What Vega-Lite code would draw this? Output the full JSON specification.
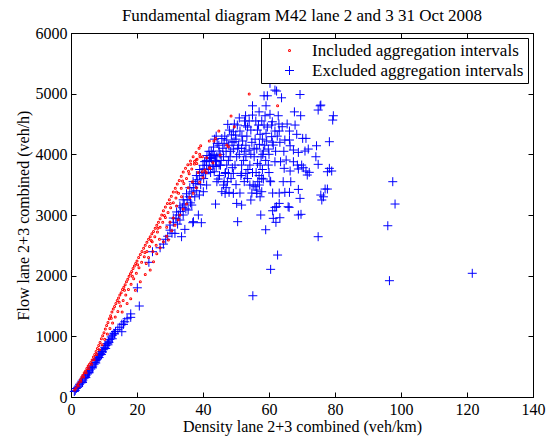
{
"$schema": "https://vega.github.io/schema/vega-lite/v6.json",
"width": 462, "height": 364,
"autosize": {"type": "none"},
"padding": {"left": 71, "top": 33, "right": 22, "bottom": 39},
"background": "white",
"title": {"text": "Fundamental diagram M42 lane 2 and 3 31 Oct 2008", "font": "Liberation Serif", "fontSize": 17, "fontWeight": "normal", "color": "black", "offset": 0},
"config": {
  "view": {"stroke": "black", "strokeWidth": 1},
  "axis": {"grid": false, "domainColor": "black", "tickColor": "black", "labelColor": "black", "titleColor": "black", "labelFont": "Liberation Serif", "titleFont": "Liberation Serif", "labelFontSize": 16, "titleFontSize": 16, "titleFontWeight": "normal", "tickSize": -5, "labelPadding": 9}
},
"data": {"values": [
{"x":1.0,"y":90,"g":"E"},{"x":1.3,"y":110,"g":"E"},{"x":1.6,"y":140,"g":"E"},{"x":2.0,"y":160,"g":"E"},{"x":2.3,"y":180,"g":"E"},{"x":2.6,"y":210,"g":"E"},{"x":3.0,"y":230,"g":"E"},{"x":3.3,"y":260,"g":"E"},{"x":3.5,"y":240,"g":"E"},{"x":3.6,"y":280,"g":"E"},{"x":4.0,"y":310,"g":"E"},{"x":4.3,"y":330,"g":"E"},{"x":4.5,"y":320,"g":"E"},{"x":4.6,"y":360,"g":"E"},{"x":5.0,"y":380,"g":"E"},{"x":5.3,"y":400,"g":"E"},{"x":5.5,"y":400,"g":"E"},{"x":5.6,"y":430,"g":"E"},{"x":6.0,"y":460,"g":"E"},{"x":6.3,"y":490,"g":"E"},{"x":6.5,"y":480,"g":"E"},{"x":6.6,"y":510,"g":"E"},{"x":7.0,"y":540,"g":"E"},{"x":7.3,"y":570,"g":"E"},{"x":7.5,"y":560,"g":"E"},{"x":7.6,"y":600,"g":"E"},{"x":7.8,"y":620,"g":"E"},{"x":8.0,"y":630,"g":"E"},{"x":8.3,"y":660,"g":"E"},{"x":8.5,"y":650,"g":"E"},{"x":8.7,"y":690,"g":"E"},{"x":9.0,"y":720,"g":"E"},{"x":9.2,"y":700,"g":"E"},{"x":9.4,"y":750,"g":"E"},{"x":9.5,"y":740,"g":"E"},{"x":9.8,"y":780,"g":"E"},{"x":10.2,"y":820,"g":"E"},{"x":10.5,"y":800,"g":"E"},{"x":10.6,"y":850,"g":"E"},{"x":11.0,"y":880,"g":"E"},{"x":11.2,"y":860,"g":"E"},{"x":11.4,"y":920,"g":"E"},{"x":11.5,"y":900,"g":"E"},{"x":11.8,"y":950,"g":"E"},{"x":12.2,"y":990,"g":"E"},{"x":12.5,"y":960,"g":"E"},{"x":12.6,"y":1020,"g":"E"},{"x":13.0,"y":1050,"g":"E"},{"x":13.2,"y":1040,"g":"E"},{"x":13.5,"y":1080,"g":"E"},{"x":14.2,"y":1110,"g":"E"},{"x":14.8,"y":1150,"g":"E"},{"x":15.4,"y":1076,"g":"E"},{"x":15.4,"y":1200,"g":"E"},{"x":15.9,"y":1197,"g":"E"},{"x":16.3,"y":1240,"g":"E"},{"x":17.0,"y":1290,"g":"E"},{"x":18.1,"y":1313,"g":"E"},{"x":18.1,"y":1370,"g":"E"},{"x":20.1,"y":1800,"g":"E"},{"x":20.7,"y":1500,"g":"E"},{"x":23.6,"y":2220,"g":"E"},{"x":24.7,"y":2395,"g":"E"},{"x":27.0,"y":2460,"g":"E"},
{"x":28.0,"y":2520,"g":"E"},{"x":28.7,"y":2600,"g":"E"},{"x":29.3,"y":2650,"g":"E"},{"x":30.0,"y":2750,"g":"E"},{"x":30.0,"y":2834,"g":"E"},{"x":30.6,"y":2700,"g":"E"},{"x":31.0,"y":2880,"g":"E"},{"x":31.5,"y":2697,"g":"E"},{"x":31.8,"y":2940,"g":"E"},{"x":32.3,"y":2850,"g":"E"},{"x":32.6,"y":3000,"g":"E"},{"x":33.0,"y":2917,"g":"E"},{"x":33.2,"y":3060,"g":"E"},{"x":33.5,"y":2642,"g":"E"},{"x":33.8,"y":3120,"g":"E"},{"x":34.0,"y":3000,"g":"E"},{"x":34.3,"y":3180,"g":"E"},{"x":34.5,"y":2763,"g":"E"},{"x":34.8,"y":3100,"g":"E"},{"x":35.2,"y":3250,"g":"E"},{"x":35.5,"y":3082,"g":"E"},{"x":35.8,"y":3300,"g":"E"},{"x":36.2,"y":3200,"g":"E"},{"x":36.6,"y":3164,"g":"E"},{"x":36.6,"y":3380,"g":"E"},{"x":36.9,"y":2873,"g":"E"},{"x":37.1,"y":2890,"g":"E"},{"x":37.2,"y":3450,"g":"E"},{"x":37.5,"y":3300,"g":"E"},{"x":37.8,"y":3520,"g":"E"},{"x":38.1,"y":3400,"g":"E"},{"x":38.4,"y":3580,"g":"E"},{"x":38.6,"y":3000,"g":"E"},{"x":38.9,"y":3329,"g":"E"},{"x":39.0,"y":3650,"g":"E"},{"x":39.3,"y":3500,"g":"E"},{"x":39.5,"y":2873,"g":"E"},{"x":39.7,"y":3700,"g":"E"},{"x":40.1,"y":3384,"g":"E"},{"x":40.2,"y":3600,"g":"E"},{"x":40.4,"y":3760,"g":"E"},{"x":40.8,"y":3680,"g":"E"},{"x":41.1,"y":3494,"g":"E"},{"x":41.1,"y":3820,"g":"E"},{"x":41.6,"y":3750,"g":"E"},{"x":41.9,"y":3880,"g":"E"},{"x":42.3,"y":3700,"g":"E"},{"x":42.6,"y":3930,"g":"E"},{"x":43.0,"y":3800,"g":"E"},{"x":43.4,"y":3980,"g":"E"},{"x":44.0,"y":3880,"g":"E"},{"x":36.0,"y":3450,"g":"E"},{"x":37.0,"y":3550,"g":"E"},{"x":38.0,"y":3650,"g":"E"},{"x":39.0,"y":3750,"g":"E"},{"x":40.0,"y":3820,"g":"E"},{"x":41.0,"y":3900,"g":"E"},{"x":42.0,"y":3980,"g":"E"},{"x":35.0,"y":3350,"g":"E"},{"x":34.0,"y":3250,"g":"E"},{"x":33.0,"y":3150,"g":"E"},{"x":32.0,"y":3050,"g":"E"},{"x":31.0,"y":2950,"g":"E"},
{"x":42.5,"y":4050,"g":"E"},{"x":43.2,"y":4120,"g":"E"},{"x":43.8,"y":3900,"g":"E"},{"x":44.3,"y":4180,"g":"E"},{"x":44.9,"y":4054,"g":"E"},{"x":45.3,"y":3820,"g":"E"},{"x":45.7,"y":4260,"g":"E"},{"x":46.2,"y":3960,"g":"E"},{"x":46.4,"y":4181,"g":"E"},{"x":46.8,"y":3700,"g":"E"},{"x":47.2,"y":4236,"g":"E"},{"x":47.5,"y":4494,"g":"E"},{"x":47.7,"y":3900,"g":"E"},{"x":48.2,"y":3960,"g":"E"},{"x":48.6,"y":4320,"g":"E"},{"x":48.9,"y":3780,"g":"E"},{"x":49.2,"y":4087,"g":"E"},{"x":49.4,"y":4208,"g":"E"},{"x":49.7,"y":3823,"g":"E"},{"x":49.9,"y":4318,"g":"E"},{"x":50.2,"y":3960,"g":"E"},{"x":50.4,"y":4483,"g":"E"},{"x":50.8,"y":4150,"g":"E"},{"x":51.2,"y":4384,"g":"E"},{"x":51.5,"y":3650,"g":"E"},{"x":51.7,"y":4098,"g":"E"},{"x":52.0,"y":4220,"g":"E"},{"x":52.3,"y":3900,"g":"E"},{"x":52.6,"y":4550,"g":"E"},{"x":52.9,"y":4636,"g":"E"},{"x":52.9,"y":4471,"g":"E"},{"x":53.0,"y":3960,"g":"E"},{"x":53.3,"y":4300,"g":"E"},{"x":53.6,"y":3750,"g":"E"},{"x":54.0,"y":4071,"g":"E"},{"x":54.2,"y":3823,"g":"E"},{"x":54.5,"y":4400,"g":"E"},{"x":54.8,"y":4198,"g":"E"},{"x":55.0,"y":4647,"g":"E"},{"x":55.0,"y":4800,"g":"E"},{"x":55.2,"y":3494,"g":"E"},{"x":55.5,"y":3960,"g":"E"},{"x":55.8,"y":4250,"g":"E"},{"x":56.1,"y":3700,"g":"E"},{"x":56.3,"y":4087,"g":"E"},{"x":56.5,"y":4400,"g":"E"},{"x":56.8,"y":4483,"g":"E"},{"x":57.1,"y":4164,"g":"E"},{"x":57.3,"y":3823,"g":"E"},{"x":57.3,"y":4330,"g":"E"},{"x":57.6,"y":3960,"g":"E"},{"x":57.8,"y":4550,"g":"E"},{"x":58.1,"y":4000,"g":"E"},{"x":58.3,"y":4054,"g":"E"},{"x":58.5,"y":4483,"g":"E"},{"x":58.5,"y":4965,"g":"E"},{"x":58.8,"y":4636,"g":"E"},{"x":59.1,"y":4346,"g":"E"},{"x":59.1,"y":4800,"g":"E"},{"x":59.3,"y":4220,"g":"E"},{"x":59.5,"y":4965,"g":"E"},{"x":59.8,"y":4087,"g":"E"},{"x":59.8,"y":3823,"g":"E"},{"x":60.3,"y":4659,"g":"E"},{"x":60.3,"y":5170,"g":"E"},{"x":60.8,"y":4291,"g":"E"},{"x":60.8,"y":4483,"g":"E"},{"x":61.0,"y":4537,"g":"E"},{"x":61.3,"y":4153,"g":"E"},{"x":61.8,"y":4384,"g":"E"},{"x":61.8,"y":5059,"g":"E"},{"x":61.8,"y":3878,"g":"E"},{"x":62.3,"y":5043,"g":"E"},{"x":62.8,"y":4636,"g":"E"},{"x":63.1,"y":4384,"g":"E"},{"x":63.3,"y":4198,"g":"E"},{"x":63.5,"y":3878,"g":"E"},{"x":63.8,"y":4932,"g":"E"},{"x":64.0,"y":4455,"g":"E"},{"x":64.6,"y":3769,"g":"E"},{"x":64.8,"y":4236,"g":"E"},{"x":65.2,"y":3906,"g":"E"},{"x":66.2,"y":4236,"g":"E"},{"x":66.2,"y":4384,"g":"E"},{"x":66.4,"y":4141,"g":"E"},{"x":66.4,"y":3725,"g":"E"},{"x":67.4,"y":4071,"g":"E"},{"x":67.4,"y":3878,"g":"E"},{"x":67.7,"y":4700,"g":"E"},{"x":67.9,"y":4483,"g":"E"},{"x":68.4,"y":4330,"g":"E"},{"x":68.6,"y":3823,"g":"E"},{"x":68.9,"y":4032,"g":"E"},{"x":68.9,"y":3758,"g":"E"},{"x":69.4,"y":4986,"g":"E"},{"x":69.6,"y":4636,"g":"E"},{"x":69.9,"y":3823,"g":"E"},{"x":70.2,"y":4263,"g":"E"},{"x":70.4,"y":3779,"g":"E"},{"x":70.9,"y":4054,"g":"E"},{"x":71.2,"y":4263,"g":"E"},{"x":71.2,"y":3725,"g":"E"},{"x":71.6,"y":3659,"g":"E"},{"x":71.9,"y":4087,"g":"E"},{"x":72.2,"y":3703,"g":"E"},{"x":74.2,"y":3960,"g":"E"},{"x":74.4,"y":4141,"g":"E"},{"x":74.9,"y":3835,"g":"E"},{"x":74.9,"y":4730,"g":"E"},{"x":75.5,"y":4800,"g":"E"},{"x":75.7,"y":4812,"g":"E"},{"x":77.7,"y":3713,"g":"E"},{"x":78.3,"y":3769,"g":"E"},{"x":78.3,"y":4208,"g":"E"},{"x":79.0,"y":3725,"g":"E"},{"x":79.3,"y":4565,"g":"E"},{"x":79.5,"y":4636,"g":"E"},
{"x":49.2,"y":4372,"g":"E"},{"x":44.2,"y":3960,"g":"E"},{"x":43.1,"y":3823,"g":"E"},{"x":44.9,"y":3823,"g":"E"},{"x":47.2,"y":3823,"g":"E"},{"x":51.7,"y":3823,"g":"E"},
{"x":43.4,"y":3713,"g":"E"},{"x":43.8,"y":3180,"g":"E"},{"x":44.2,"y":3549,"g":"E"},{"x":44.6,"y":3593,"g":"E"},{"x":45.7,"y":3384,"g":"E"},{"x":46.2,"y":3494,"g":"E"},{"x":46.4,"y":3549,"g":"E"},{"x":46.7,"y":3356,"g":"E"},{"x":46.7,"y":3686,"g":"E"},{"x":47.4,"y":3549,"g":"E"},{"x":47.7,"y":3686,"g":"E"},{"x":47.9,"y":3373,"g":"E"},{"x":49.2,"y":3356,"g":"E"},{"x":49.2,"y":3686,"g":"E"},{"x":50.2,"y":3191,"g":"E"},{"x":50.5,"y":2890,"g":"E"},{"x":51.2,"y":3362,"g":"E"},{"x":51.7,"y":3164,"g":"E"},{"x":51.7,"y":3686,"g":"E"},{"x":53.0,"y":3686,"g":"E"},{"x":54.2,"y":3494,"g":"E"},{"x":54.5,"y":3247,"g":"E"},{"x":54.8,"y":3362,"g":"E"},{"x":55.8,"y":3466,"g":"E"},{"x":56.3,"y":3356,"g":"E"},{"x":56.3,"y":3411,"g":"E"},{"x":56.6,"y":3549,"g":"E"},{"x":57.1,"y":3494,"g":"E"},{"x":57.3,"y":3300,"g":"E"},{"x":57.5,"y":3000,"g":"E"},{"x":57.8,"y":3384,"g":"E"},{"x":57.8,"y":3604,"g":"E"},{"x":58.3,"y":3593,"g":"E"},{"x":59.0,"y":2757,"g":"E"},{"x":60.3,"y":3560,"g":"E"},{"x":60.5,"y":3549,"g":"E"},{"x":61.1,"y":3070,"g":"E"},{"x":61.1,"y":3362,"g":"E"},{"x":61.3,"y":2945,"g":"E"},{"x":61.8,"y":3126,"g":"E"},{"x":62.1,"y":2879,"g":"E"},{"x":62.3,"y":3136,"g":"E"},{"x":63.1,"y":3191,"g":"E"},{"x":63.1,"y":3362,"g":"E"},{"x":63.3,"y":2955,"g":"E"},{"x":64.3,"y":3549,"g":"E"},{"x":64.8,"y":3373,"g":"E"},{"x":65.8,"y":3136,"g":"E"},{"x":66.1,"y":3126,"g":"E"},{"x":66.2,"y":3373,"g":"E"},{"x":66.6,"y":3549,"g":"E"},{"x":68.9,"y":3000,"g":"E"},{"x":68.9,"y":3422,"g":"E"},{"x":69.4,"y":3274,"g":"E"},{"x":69.7,"y":3011,"g":"E"},{"x":75.7,"y":3329,"g":"E"},{"x":76.0,"y":3247,"g":"E"},{"x":76.5,"y":3300,"g":"E"},{"x":77.0,"y":3428,"g":"E"},{"x":77.7,"y":3428,"g":"E"},
{"x":40.5,"y":3880,"g":"E"},{"x":41.2,"y":3980,"g":"E"},{"x":41.8,"y":4050,"g":"E"},{"x":42.3,"y":3950,"g":"E"},{"x":43.0,"y":4000,"g":"E"},{"x":43.5,"y":4250,"g":"E"},{"x":44.0,"y":4300,"g":"E"},{"x":44.8,"y":4150,"g":"E"},{"x":45.2,"y":4000,"g":"E"},{"x":45.5,"y":3900,"g":"E"},{"x":46.0,"y":4100,"g":"E"},{"x":46.6,"y":4300,"g":"E"},{"x":47.0,"y":4050,"g":"E"},{"x":47.8,"y":4150,"g":"E"},{"x":48.0,"y":4400,"g":"E"},{"x":48.4,"y":4050,"g":"E"},{"x":48.8,"y":4200,"g":"E"},{"x":49.5,"y":4500,"g":"E"},{"x":50.0,"y":4250,"g":"E"},{"x":50.5,"y":4100,"g":"E"},{"x":51.0,"y":4000,"g":"E"},{"x":51.0,"y":4600,"g":"E"},{"x":51.8,"y":4300,"g":"E"},{"x":52.5,"y":4050,"g":"E"},{"x":53.0,"y":4150,"g":"E"},{"x":53.5,"y":4450,"g":"E"},{"x":54.0,"y":4550,"g":"E"},{"x":54.5,"y":4000,"g":"E"},{"x":55.5,"y":4100,"g":"E"},{"x":56.0,"y":4550,"g":"E"},{"x":56.5,"y":3850,"g":"E"},{"x":57.0,"y":4700,"g":"E"},{"x":58.0,"y":4250,"g":"E"},{"x":58.7,"y":4150,"g":"E"},{"x":59.5,"y":4450,"g":"E"},{"x":60.0,"y":4000,"g":"E"},{"x":61.0,"y":4200,"g":"E"},{"x":62.0,"y":4050,"g":"E"},{"x":62.5,"y":4300,"g":"E"},{"x":63.0,"y":4500,"g":"E"},{"x":64.5,"y":4050,"g":"E"},{"x":65.5,"y":4500,"g":"E"},{"x":60.0,"y":3700,"g":"E"},{"x":59.0,"y":3900,"g":"E"},{"x":58.0,"y":3750,"g":"E"},{"x":57.0,"y":3650,"g":"E"},{"x":55.0,"y":3700,"g":"E"},{"x":53.5,"y":3600,"g":"E"},{"x":52.5,"y":3550,"g":"E"},{"x":50.0,"y":3500,"g":"E"},{"x":48.5,"y":3600,"g":"E"},{"x":47.0,"y":3450,"g":"E"},{"x":45.0,"y":3650,"g":"E"},{"x":44.0,"y":3800,"g":"E"},
{"x":55.1,"y":1669,"g":"E"},{"x":60.5,"y":2104,"g":"E"},{"x":62.6,"y":2340,"g":"E"},{"x":74.9,"y":2642,"g":"E"},{"x":96.0,"y":2823,"g":"E"},{"x":96.5,"y":1917,"g":"E"},{"x":98.2,"y":3181,"g":"E"},{"x":97.5,"y":3549,"g":"E"},{"x":121.6,"y":2039,"g":"E"},
{"x":1.1,"y":115,"g":"I"},{"x":1.5,"y":150,"g":"I"},{"x":2.0,"y":200,"g":"I"},{"x":2.4,"y":240,"g":"I"},{"x":2.9,"y":290,"g":"I"},{"x":3.3,"y":330,"g":"I"},{"x":3.6,"y":360,"g":"I"},{"x":4.0,"y":400,"g":"I"},{"x":4.4,"y":430,"g":"I"},{"x":4.8,"y":470,"g":"I"},{"x":5.2,"y":510,"g":"I"},{"x":5.6,"y":540,"g":"I"},{"x":6.0,"y":570,"g":"I"},{"x":6.4,"y":610,"g":"I"},{"x":6.8,"y":660,"g":"I"},{"x":7.2,"y":700,"g":"I"},{"x":7.6,"y":750,"g":"I"},{"x":8.0,"y":800,"g":"I"},{"x":8.4,"y":850,"g":"I"},{"x":8.8,"y":900,"g":"I"},{"x":9.2,"y":960,"g":"I"},{"x":9.6,"y":1010,"g":"I"},{"x":10.0,"y":1060,"g":"I"},{"x":10.4,"y":1120,"g":"I"},{"x":10.8,"y":1180,"g":"I"},{"x":11.2,"y":1230,"g":"I"},{"x":11.6,"y":1290,"g":"I"},{"x":12.0,"y":1340,"g":"I"},{"x":12.4,"y":1400,"g":"I"},{"x":12.8,"y":1450,"g":"I"},{"x":13.2,"y":1490,"g":"I"},{"x":13.6,"y":1540,"g":"I"},{"x":14.0,"y":1590,"g":"I"},{"x":14.4,"y":1630,"g":"I"},{"x":14.8,"y":1680,"g":"I"},{"x":15.2,"y":1720,"g":"I"},{"x":15.6,"y":1770,"g":"I"},{"x":16.0,"y":1810,"g":"I"},{"x":16.4,"y":1850,"g":"I"},{"x":16.8,"y":1900,"g":"I"},{"x":17.2,"y":1940,"g":"I"},{"x":17.6,"y":1990,"g":"I"},{"x":18.0,"y":2030,"g":"I"},{"x":18.4,"y":2070,"g":"I"},{"x":18.8,"y":2120,"g":"I"},{"x":19.2,"y":2160,"g":"I"},{"x":19.6,"y":2200,"g":"I"},{"x":20.0,"y":2240,"g":"I"},{"x":20.5,"y":2300,"g":"I"},{"x":21.0,"y":2350,"g":"I"},{"x":21.5,"y":2400,"g":"I"},{"x":22.0,"y":2450,"g":"I"},{"x":22.5,"y":2500,"g":"I"},{"x":23.0,"y":2550,"g":"I"},{"x":23.5,"y":2600,"g":"I"},{"x":24.0,"y":2640,"g":"I"},{"x":24.5,"y":2690,"g":"I"},{"x":25.0,"y":2730,"g":"I"},{"x":25.5,"y":2780,"g":"I"},{"x":26.0,"y":2830,"g":"I"},{"x":26.5,"y":2880,"g":"I"},{"x":27.0,"y":2940,"g":"I"},{"x":27.5,"y":3000,"g":"I"},{"x":28.0,"y":3070,"g":"I"},{"x":28.6,"y":3130,"g":"I"},{"x":29.2,"y":3190,"g":"I"},{"x":29.8,"y":3250,"g":"I"},{"x":30.4,"y":3310,"g":"I"},{"x":31.0,"y":3380,"g":"I"},{"x":31.6,"y":3440,"g":"I"},{"x":32.2,"y":3510,"g":"I"},{"x":32.8,"y":3570,"g":"I"},{"x":33.4,"y":3640,"g":"I"},{"x":34.0,"y":3710,"g":"I"},{"x":34.7,"y":3770,"g":"I"},{"x":35.4,"y":3830,"g":"I"},{"x":36.2,"y":3890,"g":"I"},{"x":37.0,"y":3960,"g":"I"},{"x":37.9,"y":4030,"g":"I"},{"x":38.8,"y":4100,"g":"I"},{"x":39.3,"y":4141,"g":"I"},
{"x":2.2,"y":180,"g":"I"},{"x":3.0,"y":260,"g":"I"},{"x":3.8,"y":330,"g":"I"},{"x":4.6,"y":400,"g":"I"},{"x":5.4,"y":470,"g":"I"},{"x":6.2,"y":540,"g":"I"},{"x":7.0,"y":620,"g":"I"},{"x":7.8,"y":700,"g":"I"},{"x":8.6,"y":780,"g":"I"},{"x":9.4,"y":860,"g":"I"},{"x":10.2,"y":950,"g":"I"},{"x":11.0,"y":1040,"g":"I"},{"x":11.8,"y":1130,"g":"I"},{"x":12.6,"y":1220,"g":"I"},{"x":13.4,"y":1320,"g":"I"},{"x":14.2,"y":1410,"g":"I"},{"x":15.0,"y":1500,"g":"I"},{"x":15.8,"y":1590,"g":"I"},{"x":16.6,"y":1680,"g":"I"},{"x":17.4,"y":1770,"g":"I"},{"x":18.2,"y":1860,"g":"I"},{"x":19.0,"y":1950,"g":"I"},{"x":19.8,"y":2040,"g":"I"},{"x":20.6,"y":2130,"g":"I"},{"x":21.4,"y":2220,"g":"I"},{"x":22.2,"y":2310,"g":"I"},{"x":23.0,"y":2400,"g":"I"},{"x":23.8,"y":2480,"g":"I"},{"x":24.6,"y":2560,"g":"I"},{"x":25.4,"y":2640,"g":"I"},{"x":26.2,"y":2720,"g":"I"},{"x":27.0,"y":2800,"g":"I"},{"x":27.8,"y":2880,"g":"I"},{"x":28.6,"y":2960,"g":"I"},{"x":29.4,"y":3040,"g":"I"},{"x":30.2,"y":3120,"g":"I"},{"x":31.0,"y":3200,"g":"I"},{"x":31.8,"y":3280,"g":"I"},{"x":32.6,"y":3360,"g":"I"},{"x":33.4,"y":3440,"g":"I"},{"x":34.2,"y":3520,"g":"I"},{"x":35.0,"y":3600,"g":"I"},{"x":35.8,"y":3680,"g":"I"},{"x":36.6,"y":3760,"g":"I"},{"x":37.4,"y":3840,"g":"I"},{"x":38.2,"y":3920,"g":"I"},{"x":39.0,"y":4000,"g":"I"},{"x":39.8,"y":3960,"g":"I"},
{"x":15.5,"y":1400,"g":"I"},{"x":17.0,"y":1540,"g":"I"},{"x":18.1,"y":1620,"g":"I"},{"x":19.5,"y":1760,"g":"I"},{"x":21.0,"y":1900,"g":"I"},{"x":22.5,"y":2020,"g":"I"},{"x":24.0,"y":2093,"g":"I"},{"x":25.0,"y":2230,"g":"I"},{"x":26.0,"y":2360,"g":"I"},{"x":27.0,"y":2460,"g":"I"},{"x":28.0,"y":2560,"g":"I"},{"x":29.0,"y":2650,"g":"I"},{"x":29.5,"y":2587,"g":"I"},{"x":30.5,"y":2740,"g":"I"},{"x":31.5,"y":2830,"g":"I"},{"x":32.5,"y":2920,"g":"I"},{"x":33.0,"y":3000,"g":"I"},{"x":34.0,"y":3100,"g":"I"},{"x":35.0,"y":3180,"g":"I"},{"x":36.0,"y":3290,"g":"I"},{"x":37.0,"y":3360,"g":"I"},{"x":38.0,"y":3450,"g":"I"},{"x":39.0,"y":3540,"g":"I"},{"x":40.0,"y":3620,"g":"I"},{"x":41.0,"y":3700,"g":"I"},{"x":42.0,"y":3780,"g":"I"},{"x":43.0,"y":3860,"g":"I"},
{"x":37.9,"y":3906,"g":"I"},{"x":36.3,"y":3835,"g":"I"},{"x":39.1,"y":3960,"g":"I"},{"x":41.1,"y":3944,"g":"I"},{"x":41.9,"y":4220,"g":"I"},{"x":43.3,"y":4220,"g":"I"},{"x":44.8,"y":4384,"g":"I"},{"x":48.5,"y":4631,"g":"I"},{"x":54.0,"y":4993,"g":"I"},{"x":62.6,"y":4800,"g":"I"},{"x":49.5,"y":4455,"g":"I"},{"x":47.2,"y":4153,"g":"I"},{"x":47.7,"y":4125,"g":"I"},{"x":45.2,"y":3988,"g":"I"},{"x":42.1,"y":3769,"g":"I"},{"x":40.6,"y":3741,"g":"I"},{"x":39.8,"y":3713,"g":"I"},{"x":43.8,"y":4263,"g":"I"},{"x":38.1,"y":3850,"g":"I"},{"x":33.5,"y":3300,"g":"I"},{"x":32.0,"y":3150,"g":"I"},{"x":35.5,"y":3450,"g":"I"},{"x":36.8,"y":3550,"g":"I"},{"x":38.5,"y":3700,"g":"I"},{"x":31.0,"y":2950,"g":"I"},{"x":30.0,"y":2880,"g":"I"},{"x":29.0,"y":2800,"g":"I"},{"x":26.8,"y":2600,"g":"I"},{"x":25.8,"y":2500,"g":"I"},{"x":24.8,"y":2400,"g":"I"},{"x":23.5,"y":2300,"g":"I"},{"x":22.8,"y":2200,"g":"I"},
{"x":12.2,"y":1300,"g":"I"},{"x":14.6,"y":1560,"g":"I"},{"x":16.2,"y":1760,"g":"I"},{"x":18.6,"y":1990,"g":"I"},{"x":20.2,"y":2180,"g":"I"},{"x":22.4,"y":2380,"g":"I"},{"x":24.3,"y":2580,"g":"I"},{"x":26.3,"y":2780,"g":"I"},{"x":28.3,"y":2990,"g":"I"},{"x":30.1,"y":3190,"g":"I"},{"x":32.0,"y":3380,"g":"I"},{"x":33.8,"y":3560,"g":"I"},{"x":35.6,"y":3720,"g":"I"},{"x":37.4,"y":3880,"g":"I"}
]},
"layer": [
  {
    "mark": {"type": "point", "filled": false, "opacity": 1},
    "encoding": {
      "x": {"field": "x", "type": "quantitative", "scale": {"domain": [0, 140], "nice": false, "zero": false}, "axis": {"values": [0, 20, 40, 60, 80, 100, 120, 140], "title": "Density lane 2+3 combined (veh/km)", "labelFlush": false, "titlePadding": 1}},
      "y": {"field": "y", "type": "quantitative", "scale": {"domain": [0, 6000], "nice": false}, "axis": {"values": [0, 1000, 2000, 3000, 4000, 5000, 6000], "format": "d", "title": "Flow lane 2+3 combined (veh/h)", "labelFlush": false}},
      "color": {"field": "g", "type": "nominal", "scale": {"domain": ["I", "E"], "range": ["#ff0000", "#0000ff"]},
        "legend": {"title": null, "orient": "top-right", "offset": 5, "fillColor": "white", "strokeColor": "black", "padding": 4, "labelFont": "Liberation Serif", "labelFontSize": 17, "labelColor": "black", "labelLimit": 400, "symbolOffset": 16, "labelOffset": 14, "rowPadding": 2,
          "labelExpr": "datum.label == 'I' ? 'Included aggregation intervals' : 'Excluded aggregation intervals'"}},
      "shape": {"field": "g", "type": "nominal", "scale": {"domain": ["I", "E"], "range": ["circle", "M-1,0L1,0M0,-1L0,1"]}},
      "size": {"field": "g", "type": "nominal", "scale": {"domain": ["I", "E"], "range": [1, 81]}},
      "strokeWidth": {"field": "g", "type": "nominal", "scale": {"domain": ["I", "E"], "range": [2, 1]}}
    }
  },
  {
    "data": {"values": [{"x": 0, "y": 0}]},
    "mark": {"type": "point", "opacity": 0},
    "encoding": {
      "x": {"field": "x", "type": "quantitative", "axis": {"orient": "top", "labels": false, "title": null, "values": [0, 20, 40, 60, 80, 100, 120, 140]}},
      "y": {"field": "y", "type": "quantitative", "axis": {"orient": "right", "labels": false, "title": null, "values": [0, 1000, 2000, 3000, 4000, 5000, 6000]}}
    }
  }
],
"resolve": {"axis": {"x": "independent", "y": "independent"}}
}
